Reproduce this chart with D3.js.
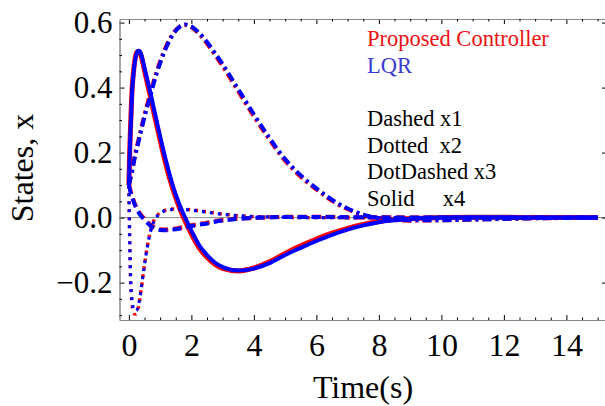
<!DOCTYPE html>
<html>
<head>
<meta charset="utf-8">
<script src="https://cdn.jsdelivr.net/npm/d3@7"></script>
<style>
  html, body { margin: 0; padding: 0; background: #fff; }
  svg { display: block; font-family: "Liberation Serif", "DejaVu Serif", serif; }
</style>
</head>
<body>
<svg id="chart" width="605" height="406"></svg>
<script>
// ---------- data ----------
const time = [0, 0.025, 0.05, 0.1, 0.15, 0.2, 0.25, 0.3, 0.35, 0.4, 0.5, 0.6, 0.7, 0.8, 1.0, 1.2, 1.4, 1.6, 1.8, 2.0, 2.25, 2.5, 2.75, 3.0, 3.5, 4, 4.5, 5, 5.5, 6, 6.5, 7, 7.5, 8, 9, 10, 11, 12, 13, 14, 15];

// Proposed controller (red)
const propX1 = [0.10, 0.092, 0.083, 0.067, 0.053, 0.040, 0.030, 0.021, 0.013, 0.007, -0.004, -0.014, -0.023, -0.029, -0.036, -0.037, -0.035, -0.032, -0.028, -0.024, -0.020, -0.016, -0.011, -0.008, -0.003, -0.001, 0.001, 0.002, 0.002, 0.002, 0.002, 0.001, 0.001, 0.001, 0, 0, 0, 0, 0, 0, 0];
const propX2 = [0.10, -0.065, -0.18, -0.265, -0.29, -0.297, -0.293, -0.278, -0.252, -0.217, -0.145, -0.083, -0.037, -0.009, 0.015, 0.024, 0.027, 0.027, 0.026, 0.024, 0.021, 0.018, 0.014, 0.011, 0.006, 0.003, 0.002, 0.001, 0, 0, 0, 0, 0, 0, 0, 0, 0, 0, 0, 0, 0];
const propX3 = [0.10, 0.112, 0.123, 0.145, 0.17, 0.195, 0.216, 0.236, 0.256, 0.276, 0.316, 0.352, 0.387, 0.421, 0.48, 0.528, 0.564, 0.586, 0.593, 0.586, 0.565, 0.536, 0.502, 0.466, 0.389, 0.312, 0.24, 0.175, 0.126, 0.087, 0.052, 0.026, 0.008, -0.003, -0.009, -0.008, -0.006, -0.004, -0.002, -0.001, 0];
const propX4 = [0.10, 0.20, 0.27, 0.39, 0.45, 0.49, 0.508, 0.512, 0.508, 0.495, 0.452, 0.41, 0.368, 0.323, 0.238, 0.158, 0.09, 0.035, -0.01, -0.05, -0.093, -0.122, -0.143, -0.156, -0.164, -0.155, -0.136, -0.11, -0.087, -0.066, -0.048, -0.033, -0.021, -0.012, -0.003, 0, 0.001, 0.001, 0, 0, 0];

// LQR (blue)
const lqrX1 = [0.10, 0.09, 0.08, 0.064, 0.05, 0.037, 0.027, 0.018, 0.01, 0.004, -0.007, -0.017, -0.026, -0.032, -0.038, -0.039, -0.037, -0.034, -0.030, -0.026, -0.022, -0.018, -0.013, -0.009, -0.004, -0.001, 0.001, 0.002, 0.002, 0.002, 0.002, 0.001, 0.001, 0.001, 0, 0, 0, 0, 0, 0, 0];
const lqrX2 = [0.10, -0.06, -0.17, -0.255, -0.28, -0.287, -0.285, -0.272, -0.248, -0.215, -0.145, -0.085, -0.04, -0.012, 0.013, 0.022, 0.025, 0.026, 0.025, 0.023, 0.02, 0.017, 0.013, 0.01, 0.006, 0.003, 0.002, 0.001, 0, 0, 0, 0, 0, 0, 0, 0, 0, 0, 0, 0, 0];
const lqrX3 = [0.10, 0.11, 0.12, 0.14, 0.165, 0.19, 0.21, 0.23, 0.25, 0.27, 0.31, 0.345, 0.38, 0.415, 0.475, 0.525, 0.562, 0.585, 0.594, 0.588, 0.568, 0.54, 0.507, 0.472, 0.395, 0.318, 0.245, 0.18, 0.13, 0.09, 0.055, 0.028, 0.009, -0.002, -0.008, -0.008, -0.006, -0.004, -0.002, -0.001, 0];
const lqrX4 = [0.10, 0.19, 0.26, 0.38, 0.445, 0.485, 0.505, 0.513, 0.512, 0.50, 0.46, 0.42, 0.38, 0.335, 0.25, 0.17, 0.10, 0.045, 0.0, -0.04, -0.085, -0.115, -0.138, -0.152, -0.163, -0.157, -0.14, -0.115, -0.093, -0.072, -0.053, -0.037, -0.024, -0.014, -0.004, 0, 0.001, 0.001, 0, 0, 0];

const xMajorTicks = [0, 2, 4, 6, 8, 10, 12, 14];
const yMajorTicks = [-0.2, 0.0, 0.2, 0.4, 0.6];
const xTitle = "Time(s)";
const yTitle = "States, x";
const legendControllers = ["Proposed Controller", "LQR"];
const legendStyles = ["Dashed x1", "Dotted  x2", "DotDashed x3", "Solid     x4"];

// ---------- drawing ----------
const svg = d3.select("#chart");
const mLeft = 119.5, mRight = 607, mTop = 19, mBottom = 320;

const x = d3.scaleLinear().domain([-0.3, 15.3]).range([mLeft, mRight]);
const y = d3.scaleLinear().domain([-0.315, 0.611]).range([mBottom, mTop]);

const xMinor = d3.range(0, 15.01, 0.5).filter(v => Math.abs(v / 2 - Math.round(v / 2)) > 1e-6);
const yMinor = d3.range(-0.3, 0.61, 0.05).map(v => +v.toFixed(2)).filter(v => Math.abs(v / 0.2 - Math.round(v / 0.2)) > 1e-6);

svg.append("defs").append("clipPath").attr("id", "clip")
  .append("rect").attr("x", mLeft).attr("y", mTop).attr("width", mRight - mLeft).attr("height", mBottom - mTop);

// zero axis line
svg.append("line")
  .attr("x1", mLeft).attr("x2", mRight)
  .attr("y1", y(0)).attr("y2", y(0))
  .attr("stroke", "#8a8a8a").attr("stroke-width", 1);

// curves
const styles = {
  x1: "9,5",
  x2: "3,5",
  x3: "9,4,3,4",
  x4: null
};
const series = [
  { vals: propX1, color: "#ff0000", dash: styles.x1, w: 4.2 },
  { vals: propX2, color: "#ff0000", dash: styles.x2, w: 3.4 },
  { vals: propX3, color: "#ff0000", dash: styles.x3, w: 4.2 },
  { vals: propX4, color: "#ff0000", dash: styles.x4, w: 5 },
  { vals: lqrX1, color: "#0000ff", dash: styles.x1, w: 4 },
  { vals: lqrX2, color: "#0000ff", dash: styles.x2, w: 3.2 },
  { vals: lqrX3, color: "#0000ff", dash: styles.x3, w: 4 },
  { vals: lqrX4, color: "#0000ff", dash: styles.x4, w: 4 }
];
const line = d3.line()
  .x((d, i) => x(time[i]))
  .y(d => y(d))
  .curve(d3.curveMonotoneX);

const plot = svg.append("g").attr("clip-path", "url(#clip)");
series.forEach(s => {
  plot.append("path")
    .attr("d", line(s.vals))
    .attr("fill", "none")
    .attr("stroke", s.color)
    .attr("stroke-width", s.w)
    .attr("stroke-dasharray", s.dash)
    .attr("stroke-linejoin", "round");
});

// frame + ticks via d3 axes
function styleAxis(g) {
  g.select(".domain").attr("stroke", "#8a8a8a").attr("stroke-width", 1);
  g.selectAll(".tick line").attr("stroke", "#000").attr("stroke-width", 1);
  g.selectAll(".tick text").attr("fill", "#000").attr("font-family", "Liberation Serif");
}

// bottom major
svg.append("g").attr("transform", `translate(0,${mBottom})`)
  .call(d3.axisBottom(x).tickValues(xMajorTicks).tickSizeInner(-5).tickSizeOuter(0).tickPadding(13).tickFormat(d3.format("d")))
  .call(styleAxis)
  .call(g => g.selectAll(".tick text").attr("font-size", 32));
// bottom minor
svg.append("g").attr("transform", `translate(0,${mBottom})`)
  .call(d3.axisBottom(x).tickValues(xMinor).tickSizeInner(-2.5).tickSizeOuter(0).tickFormat(""))
  .call(styleAxis);
// top
svg.append("g").attr("transform", `translate(0,${mTop})`)
  .call(d3.axisTop(x).tickValues(xMajorTicks).tickSizeInner(-5).tickSizeOuter(0).tickFormat(""))
  .call(styleAxis);
svg.append("g").attr("transform", `translate(0,${mTop})`)
  .call(d3.axisTop(x).tickValues(xMinor).tickSizeInner(-2.5).tickSizeOuter(0).tickFormat(""))
  .call(styleAxis);
// left major
svg.append("g").attr("transform", `translate(${mLeft},0)`)
  .call(d3.axisLeft(y).tickValues(yMajorTicks).tickSizeInner(-5).tickSizeOuter(0).tickPadding(7)
    .tickFormat(d => (d < 0 ? "\u2212" : "") + Math.abs(d).toFixed(1)))
  .call(styleAxis)
  .call(g => g.selectAll(".tick text").attr("font-size", 31));
svg.append("g").attr("transform", `translate(${mLeft},0)`)
  .call(d3.axisLeft(y).tickValues(yMinor).tickSizeInner(-2.5).tickSizeOuter(0).tickFormat(""))
  .call(styleAxis);
// right
svg.append("g").attr("transform", `translate(${mRight},0)`)
  .call(d3.axisRight(y).tickValues(yMajorTicks).tickSizeInner(-5).tickSizeOuter(0).tickFormat(""))
  .call(styleAxis);

// axis titles
svg.append("text")
  .attr("x", 363).attr("y", 398)
  .attr("text-anchor", "middle")
  .attr("font-size", 32)
  .attr("fill", "#000")
  .text(xTitle);
svg.append("text")
  .attr("transform", "translate(33,168) rotate(-90)")
  .attr("text-anchor", "middle")
  .attr("font-size", 32)
  .attr("fill", "#000")
  .text(yTitle);

// legend text
const legendColors = ["#ee1111", "#3c3cd2"];
legendControllers.forEach((t, i) => {
  svg.append("text")
    .attr("x", 367).attr("y", 46 + i * 26.7)
    .attr("font-size", 22.5)
    .attr("fill", legendColors[i])
    .text(t);
});
legendStyles.forEach((t, i) => {
  svg.append("text")
    .attr("x", 367).attr("y", 126 + i * 26.7)
    .attr("font-size", 22.5)
    .attr("fill", "#000")
    .style("white-space", "pre")
    .text(t);
});
</script>
</body>
</html>
